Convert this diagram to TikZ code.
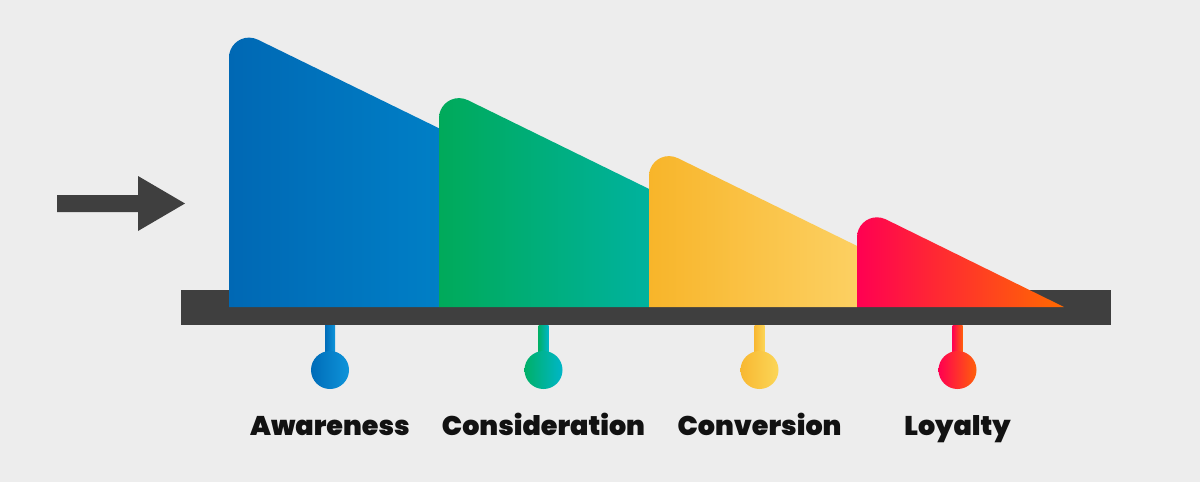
\documentclass[tikz,border=0pt]{standalone}
\usepackage{fontspec}
\setmainfont{Poppins}
\IfFontExistsTF{Poppins Black}{\newfontfamily\labfont{Poppins Black}}{\newfontfamily\labfont{Poppins}[UprightFont=* Bold]}
\definecolor{bg}{RGB}{237,237,237}
\definecolor{bar}{RGB}{63,63,63}
\definecolor{blueL}{RGB}{0,104,180}
\definecolor{blueR}{RGB}{0,127,198}
\definecolor{greenL}{RGB}{0,170,90}
\definecolor{greenR}{RGB}{0,178,158}
\definecolor{yelL}{RGB}{248,181,42}
\definecolor{yelR}{RGB}{252,208,98}
\definecolor{redL}{RGB}{255,0,82}
\definecolor{redR}{RGB}{255,106,0}
\definecolor{bpL}{RGB}{0,108,184}
\definecolor{bpR}{RGB}{14,148,218}
\definecolor{gpL}{RGB}{0,176,104}
\definecolor{gpR}{RGB}{0,182,200}
\definecolor{ypL}{RGB}{248,184,50}
\definecolor{ypR}{RGB}{251,214,88}
\definecolor{rpL}{RGB}{255,0,80}
\definecolor{rpR}{RGB}{255,96,10}
% #1 left x, #2 apex y, #3 right end x on baseline 307
\newcommand\stagepath[3]{(#1,307) -- ({#1},{#2+32.1}) arc[start angle=180, end angle=296.1, radius=20] -- (#3,307) -- cycle}
\tikzset{
  label/.style={font=\labfont\fontsize{27}{32}\selectfont, text=black!93, anchor=base, inner sep=0pt},
}
\newcommand\pin[4]{%
  \shade[left color=#2, right color=#3] ({#1-5},325) rectangle ({#1+5},356);
  \shade[left color=#2, right color=#3] (#1,370) circle[radius=19];
  \node[label] (#4) at (#1,435) {#4};
}
\begin{document}
\begin{tikzpicture}[x=1pt,y=-1pt]
\useasboundingbox (0,0) rectangle (1200,482);
\fill[bg] (0,0) rectangle (1200,482);
% arrow
\fill[bar] (57,195) -- (138,195) -- (138,176) -- (185,203.5) -- (138,231) -- (138,212) -- (57,212) -- cycle;
% bar
\fill[bar] (181,290) rectangle (1111,325);
% stages
\begin{scope}\clip \stagepath{229}{25.5}{804.5};
  \shade[left color=blueL, right color=blueR] (229,20) rectangle (439,310);
\end{scope}
\begin{scope}\clip \stagepath{439}{86}{890};
  \shade[left color=greenL, right color=greenR] (439,80) rectangle (649,310);
\end{scope}
\begin{scope}\clip \stagepath{649}{144}{981.7};
  \shade[left color=yelL, right color=yelR] (649,140) rectangle (857,310);
\end{scope}
\begin{scope}\clip \stagepath{857}{205.2}{1064};
  \shade[left color=redL, right color=redR] (857,200) rectangle (1064,310);
\end{scope}
% pins
\pin{330}{bpL}{bpR}{Awareness}
\pin{543.5}{gpL}{gpR}{Consideration}
\pin{759.5}{ypL}{ypR}{Conversion}
\pin{957.5}{rpL}{rpR}{Loyalty}
\end{tikzpicture}
\end{document}
